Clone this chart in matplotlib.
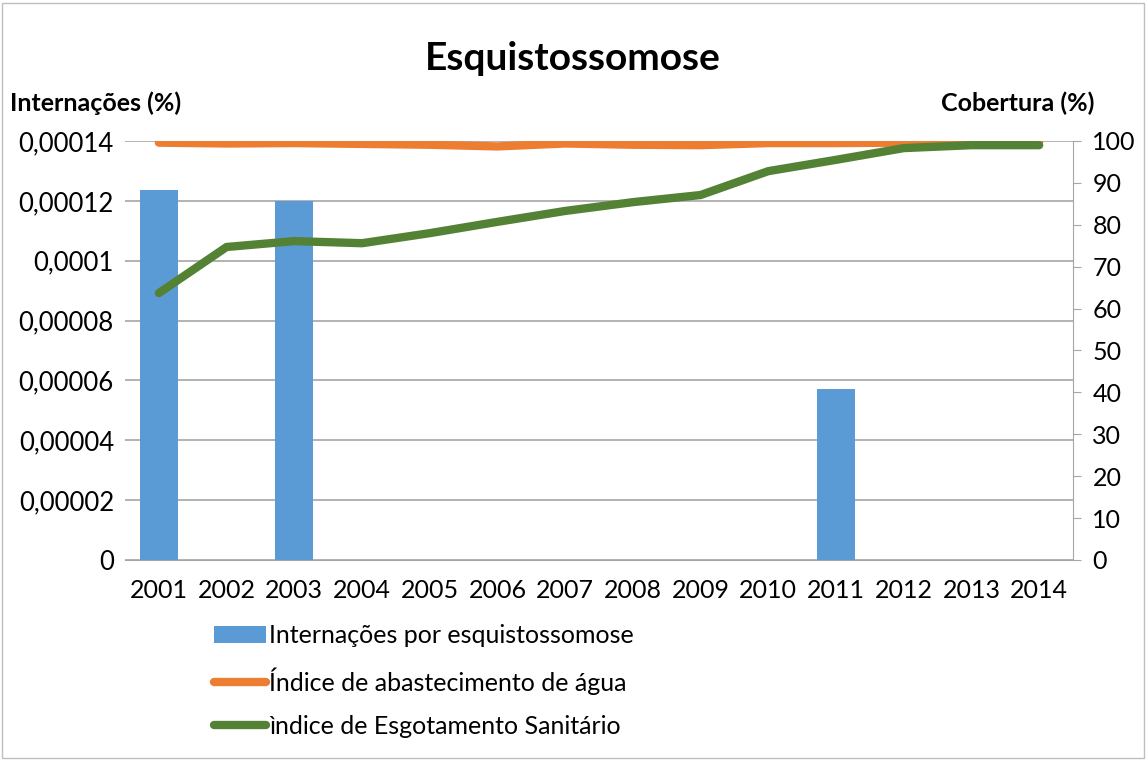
import matplotlib.pyplot as plt
from matplotlib.lines import Line2D
from matplotlib.patches import Patch, Rectangle

plt.rcParams['font.family'] = ['Lato', 'DejaVu Sans']

anos = ['2001', '2002', '2003', '2004', '2005', '2006', '2007',
        '2008', '2009', '2010', '2011', '2012', '2013', '2014']
internacoes = [0.0001236, 0, 0.00012, 0, 0, 0, 0, 0, 0, 0, 0.0000571, 0, 0, 0]
agua = [99.6, 99.4, 99.5, 99.3, 99.1, 98.7, 99.4, 99.1, 99.0, 99.5, 99.5, 99.6, 99.8, 99.8]
esgoto = [63.7, 74.7, 76.1, 75.6, 78.0, 80.7, 83.3, 85.4, 87.1, 92.8, 95.5, 98.3, 99.0, 99.0]
esq_ticks = [0, 0.00002, 0.00004, 0.00006, 0.00008, 0.0001, 0.00012, 0.00014]
esq_labels = ['0', '0,00002', '0,00004', '0,00006', '0,00008', '0,0001', '0,00012', '0,00014']
dir_ticks = list(range(0, 101, 10))

azul = '#5b9bd5'
laranja = '#ed7d31'
verde = '#548235'
cinza = '#a6a6a6'

fig = plt.figure(figsize=(11.46, 7.6), dpi=100)
fig.patches.append(Rectangle((0.002, 0.002), 0.996, 0.994, transform=fig.transFigure,
                             fill=False, edgecolor='#bfbfbf', linewidth=1))

ax = fig.add_axes([0.1091, 0.2632, 0.8272, 0.5513])
x = list(range(len(anos)))
ax.bar(x, internacoes, width=0.56, color=azul, zorder=2)
ax.set_xlim(-0.5, len(anos) - 0.5)
ax.set_ylim(0, 0.00014)
ax.set_yticks(esq_ticks)
ax.set_yticklabels(esq_labels)
ax.set_xticks(x)
ax.set_xticklabels(anos)
ax.grid(axis='y', color=cinza, linewidth=1.2, zorder=0)
ax.tick_params(axis='x', length=0, labelsize=18, pad=14)
ax.tick_params(axis='y', length=0, labelsize=18.5, pad=8)
for s in ['left', 'top', 'right']:
    ax.spines[s].set_visible(False)
ax.spines['bottom'].set_color(cinza)

ax2 = ax.twinx()
ax2.plot(x, agua, color=laranja, linewidth=6, solid_capstyle='round', solid_joinstyle='round', zorder=3)
ax2.plot(x, esgoto, color=verde, linewidth=6, solid_capstyle='round', solid_joinstyle='round', zorder=4)
ax2.set_ylim(0, 100)
ax2.set_yticks(dir_ticks)
ax2.tick_params(axis='y', direction='out', length=6, color=cinza, labelsize=18, pad=8)
for s in ['left', 'top', 'bottom']:
    ax2.spines[s].set_visible(False)
ax2.spines['right'].set_color(cinza)

fig.text(0.5, 0.923, 'Esquistossomose', ha='center', va='center', fontsize=28, fontweight='bold')
fig.text(0.009, 0.864, 'Internações (%)', ha='left', va='center', fontsize=18, fontweight='bold')
fig.text(0.955, 0.864, 'Cobertura (%)', ha='right', va='center', fontsize=18, fontweight='bold')

handles = [Patch(facecolor=azul, edgecolor='none'),
           Line2D([], [], color=laranja, linewidth=6, solid_capstyle='round'),
           Line2D([], [], color=verde, linewidth=6, solid_capstyle='round')]
labels = ['Internações por esquistossomose', 'Índice de abastecimento de água',
          'ìndice de Esgotamento Sanitário']
fig.legend(handles, labels, loc='upper left', bbox_to_anchor=(0.178, 0.192),
           frameon=False, fontsize=18, handlelength=2.1, handletextpad=0.1,
           labelspacing=0.8, borderaxespad=0)

fig.savefig('out.png', dpi=100)
